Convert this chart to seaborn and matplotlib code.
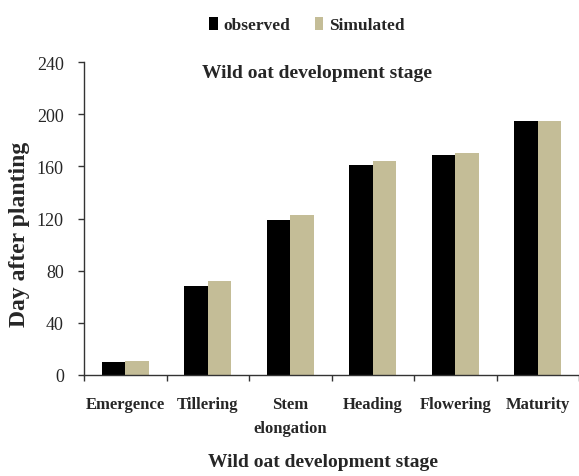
import numpy as np
import pandas as pd
import matplotlib
matplotlib.use('Agg')
import matplotlib.pyplot as plt
import seaborn as sns

# data
stages = ['Emergence', 'Tillering', 'Stem\nelongation', 'Heading', 'Flowering', 'Maturity']
observed = [10, 68, 119, 161, 169, 195]
simulated = [11, 72, 123, 164, 170, 195]
series_names = ['observed', 'Simulated']
y_ticks = [0, 40, 80, 120, 160, 200, 240]

sns.set_style('white')
plt.rcParams['font.family'] = ['Liberation Serif', 'DejaVu Serif']

df = pd.DataFrame({
    'stage': stages * 2,
    'days': observed + simulated,
    'type': [series_names[0]] * len(stages) + [series_names[1]] * len(stages),
})

fig = plt.figure(figsize=(5.79, 4.77), dpi=100)
ax = fig.add_axes([84 / 579, 101 / 477, 495 / 579, 313 / 477])

sns.barplot(data=df, x='stage', y='days', hue='type', order=stages,
            hue_order=series_names, palette=['#000000', '#C4BD97'],
            saturation=1, width=0.57, linewidth=0, ax=ax)

handles, labels = ax.get_legend_handles_labels()
ax.get_legend().remove()
fig.legend(handles, labels, loc='center', bbox_to_anchor=(307 / 579, 1 - 26 / 477),
           ncol=2, frameon=False, handlelength=0.5, handleheight=0.8,
           handletextpad=0.35, columnspacing=1.4,
           prop={'weight': 'bold', 'size': 12.5})

ax.set_xlim(-0.5, len(stages) - 0.5)
ax.set_ylim(0, 240)
ax.set_yticks(y_ticks)
ax.set_yticklabels([str(t) for t in y_ticks], fontsize=13)

# ticks at category boundaries, labels at category centres
ax.set_xticks(np.arange(-0.5, len(stages), 1.0))
ax.set_xticklabels([])
ax.set_xticks(np.arange(len(stages)), minor=True)
ax.set_xticklabels(stages, minor=True, fontsize=12, fontweight='bold', linespacing=1.7)
ax.tick_params(axis='x', which='minor', length=0, pad=15)
ax.tick_params(axis='x', which='major', direction='out', length=4.5, width=1, color='#333333', bottom=True)
ax.tick_params(axis='y', direction='out', length=4.5, width=1, color='#333333', left=True, pad=10)

ax.set_xlabel('')
ax.set_ylabel('')
for side in ['top', 'right']:
    ax.spines[side].set_visible(False)
for side in ['left', 'bottom']:
    ax.spines[side].set_color('#333333')
    ax.spines[side].set_linewidth(1)

fig.text(317 / 579, 1 - 73 / 477, 'Wild oat development stage',
         ha='center', va='center', fontsize=14, fontweight='bold')
fig.text(323 / 579, 1 - 463 / 477, 'Wild oat development stage',
         ha='center', va='center', fontsize=14, fontweight='bold')
fig.text(19 / 579, 1 - 234 / 477, 'Day after planting', rotation=90,
         ha='center', va='center', fontsize=17, fontweight='bold')

fig.savefig('out.png', dpi=100)
